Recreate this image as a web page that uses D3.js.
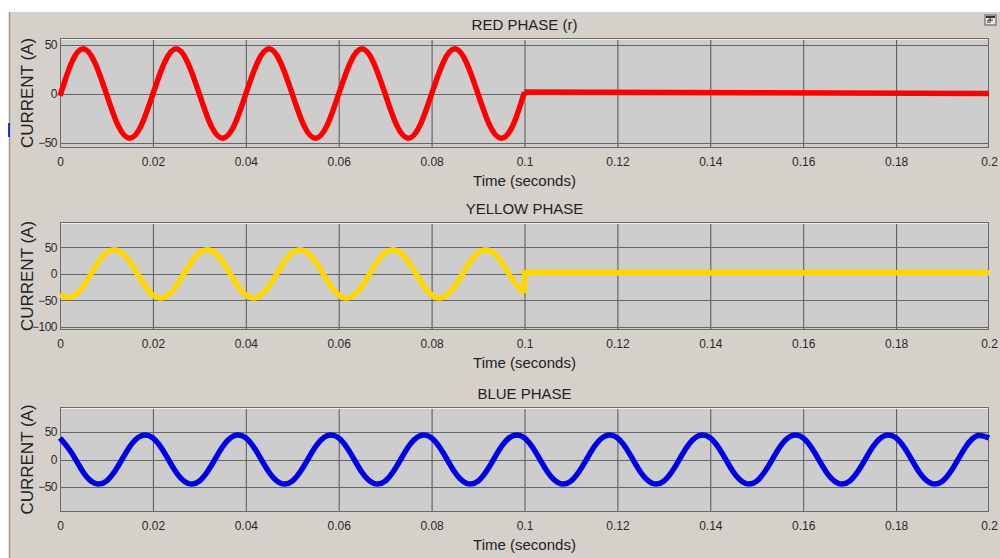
<!DOCTYPE html>
<html>
<head>
<meta charset="utf-8">
<script src="https://cdn.jsdelivr.net/npm/d3@7"></script>
<style>
  body { margin: 0; background: #ffffff; }
  svg text { font-family: "Liberation Sans", Arial, sans-serif; }
</style>
</head>
<body>
<div id="chart"></div>
<script>
// x axis ticks (seconds)
const xTicks = [0, 0.02, 0.04, 0.06, 0.08, 0.1, 0.12, 0.14, 0.16, 0.18, 0.2];
const xTickLabels = ["0", "0.02", "0.04", "0.06", "0.08", "0.1", "0.12", "0.14", "0.16", "0.18", "0.2"];

// samples every 2.5 ms
const sampleStep = 0.0025;

// red phase, 0 .. 0.1 s, then breaker opens
const redWave = [
  -2, 32, 46, 32, 0, -32, -45, -32,
  0, 32, 46, 32, 0, -32, -45, -32,
  0, 32, 46, 32, 0, -32, -45, -32,
  0, 32, 46, 32, 0, -32, -45, -32,
  0, 32, 46, 32, 0, -32, -45, -32,
  2
];
const redTailTimes = [0.1, 0.15, 0.2];
const redTail = [2, 1.2, 0.6];

// yellow phase
const yellowWave = [
  -40, -44, -23, 12, 40, 44, 23, -12,
  -40, -44, -23, 12, 40, 44, 23, -12,
  -40, -44, -23, 12, 40, 44, 23, -12,
  -40, -44, -23, 12, 40, 44, 23, -12,
  -40, -44, -23, 12, 40, 44, 23, -12,
  -36
];
const yellowTailTimes = [0.1, 0.1, 0.2];
const yellowTail = [-36, 2, 2];

// blue phase, never interrupted
const blueWave = [
  39, 12, -23, -43, -39, -12, 23, 43,
  39, 12, -23, -43, -39, -12, 23, 43,
  39, 12, -23, -43, -39, -12, 23, 43,
  39, 12, -23, -43, -39, -12, 23, 43,
  39, 12, -23, -43, -39, -12, 23, 43,
  39, 12, -23, -43, -39, -12, 23, 43,
  39, 12, -23, -43, -39, -12, 23, 43,
  39, 12, -23, -43, -39, -12, 23, 43,
  39, 12, -23, -43, -39, -12, 23, 43,
  39, 12, -23, -43, -39, -12, 23, 43,
  39
];
const blueTailTimes = [];
const blueTail = [];

const titles = ["RED PHASE (r)", "YELLOW PHASE", "BLUE PHASE"];
const yDomains = [[-55, 57], [-106, 98], [-95, 95]];
const yTicks = [[-50, 0, 50], [-100, -50, 0, 50], [-50, 0, 50]];
const colors = ["#ff0000", "#ffd700", "#0000e6"];

const W = 1000, H = 558;
const left = 60, right = 989;
const plotBoxes = [[38, 148], [222, 330], [407, 512]];

const svg = d3.select("#chart").append("svg")
  .attr("width", W)
  .attr("height", H);

// figure window background
svg.append("rect")
  .attr("x", 10).attr("y", 12)
  .attr("width", W - 10).attr("height", H - 12)
  .attr("fill", "#d5d1ca");
svg.append("line")
  .attr("x1", 9.5).attr("x2", 9.5).attr("y1", 12).attr("y2", H)
  .attr("stroke", "#a39a78").attr("stroke-width", 1.5);
svg.append("rect")
  .attr("x", 8).attr("y", 123).attr("width", 2).attr("height", 14)
  .attr("fill", "#2233cc");

// little undock icon, top right
const icon = svg.append("g").attr("transform", "translate(985,15)");
icon.append("rect").attr("width", 11).attr("height", 10)
  .attr("fill", "#e8e6e0").attr("stroke", "#555").attr("stroke-width", 1);
icon.append("rect").attr("x", 1).attr("y", 1).attr("width", 9).attr("height", 2).attr("fill", "#333");
icon.append("path").attr("d", "M3,8 L3,5 L8,5 M5,3 L5,8").attr("stroke", "#333").attr("fill", "none");

const x = d3.scaleLinear().domain([0, 0.2]).range([left, right]);

const waves = [redWave, yellowWave, blueWave];
const tailTimes = [redTailTimes, yellowTailTimes, blueTailTimes];
const tails = [redTail, yellowTail, blueTail];

plotBoxes.forEach(function(box, i) {
  const top = box[0], bottom = box[1];
  const y = d3.scaleLinear().domain(yDomains[i]).range([bottom, top]);
  const g = svg.append("g");

  g.append("rect")
    .attr("x", left).attr("y", top)
    .attr("width", right - left).attr("height", bottom - top)
    .attr("fill", "#cdcdcd");

  // vertical grid + tick labels
  const xAxis = g.append("g")
    .attr("transform", `translate(0,${bottom})`)
    .call(d3.axisBottom(x).tickValues(xTicks).tickSize(0).tickPadding(9)
      .tickFormat((d, k) => xTickLabels[k]));
  xAxis.select(".domain").remove();
  xAxis.selectAll("text").attr("font-size", 12).attr("fill", "#2a2a2a");

  g.append("g").selectAll("line")
    .data(xTicks.slice(1, -1))
    .enter().append("line")
    .attr("x1", d => x(d) + 0.5).attr("x2", d => x(d) + 0.5)
    .attr("y1", top).attr("y2", bottom)
    .attr("stroke", "#555").attr("stroke-width", 1);

  // horizontal grid + y labels
  const yAxis = g.append("g")
    .attr("transform", `translate(${left},0)`)
    .call(d3.axisLeft(y).tickValues(yTicks[i]).tickSize(0).tickPadding(3));
  yAxis.select(".domain").remove();
  yAxis.selectAll("text").attr("font-size", 12).attr("fill", "#2a2a2a")
    .attr("letter-spacing", "-0.5px");

  g.append("g").selectAll("line")
    .data(yTicks[i])
    .enter().append("line")
    .attr("x1", left).attr("x2", right)
    .attr("y1", d => Math.round(y(d)) + 0.5).attr("y2", d => Math.round(y(d)) + 0.5)
    .attr("stroke", "#666").attr("stroke-width", 1);

  // frame
  g.append("rect")
    .attr("x", left + 0.5).attr("y", top + 0.5)
    .attr("width", right - left - 1).attr("height", bottom - top - 1)
    .attr("fill", "none").attr("stroke", "#6a6a6a");
  g.append("line")
    .attr("x1", left + 1).attr("x2", right - 1)
    .attr("y1", top + 1.5).attr("y2", top + 1.5)
    .attr("stroke", "#f0f0f0");

  // the signal
  const wavePts = waves[i].map((v, k) => [k * sampleStep, v]);
  const smooth = d3.line().x(d => x(d[0])).y(d => y(d[1])).curve(d3.curveNatural);
  const straight = d3.line().x(d => x(d[0])).y(d => y(d[1]));

  g.append("path")
    .attr("d", smooth(wavePts))
    .attr("fill", "none").attr("stroke", colors[i])
    .attr("stroke-width", 5.5).attr("stroke-linejoin", "round");

  if (tails[i].length) {
    const tailPts = tails[i].map((v, k) => [tailTimes[i][k], v]);
    g.append("path")
      .attr("d", straight(tailPts))
      .attr("fill", "none").attr("stroke", colors[i])
      .attr("stroke-width", 5.5).attr("stroke-linejoin", "round");
  }

  // texts
  g.append("text")
    .attr("x", (left + right) / 2).attr("y", top - 8)
    .attr("text-anchor", "middle")
    .attr("font-size", 15).attr("fill", "#222")
    .text(titles[i]);

  g.append("text")
    .attr("x", (left + right) / 2).attr("y", bottom + 38)
    .attr("text-anchor", "middle")
    .attr("font-size", 15).attr("fill", "#222")
    .text("Time (seconds)");

  g.append("text")
    .attr("transform", `translate(33,${(top + bottom) / 2}) rotate(-90)`)
    .attr("text-anchor", "middle")
    .attr("font-size", 17).attr("fill", "#222")
    .text("CURRENT (A)");
});
</script>
</body>
</html>
